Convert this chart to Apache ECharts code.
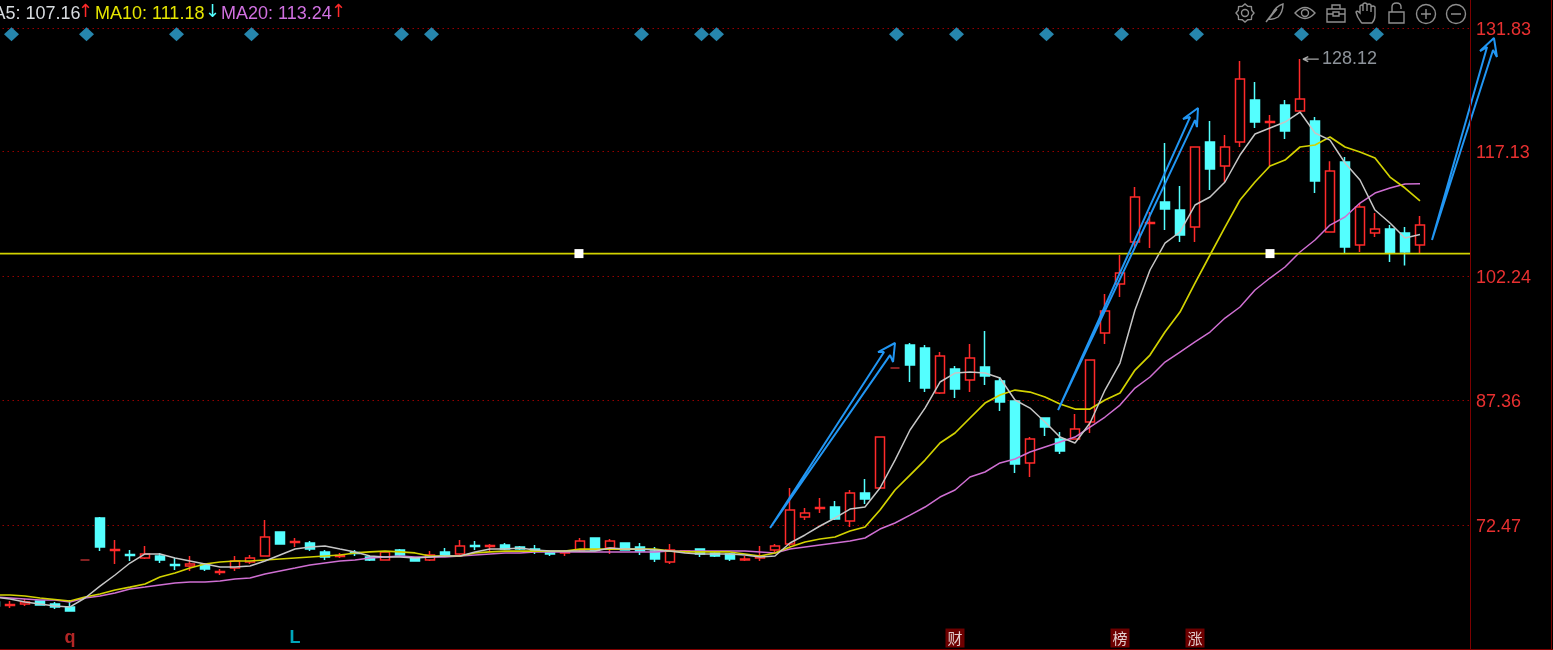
<!DOCTYPE html>
<html><head><meta charset="utf-8">
<script src="https://cdn.jsdelivr.net/npm/echarts@6/dist/echarts.min.js"></script>
<style>html,body{margin:0;padding:0;background:#000;overflow:hidden}#c{width:1553px;height:650px}</style></head>
<body><div id="c"></div>
<script>
const tickLabels=[72.47,87.36,102.24,117.13,131.83];
// [open, close, low, high]
const candles=[
[63.27,62.80,62.56,63.39],[62.85,62.97,62.56,63.39],[63.03,63.27,62.80,63.63],[63.39,62.91,62.91,63.39],[63.03,62.68,62.44,63.27],
[62.68,62.20,62.20,63.51],[68.29,68.29,68.29,68.29],[73.31,69.84,69.36,73.43],[69.42,69.54,67.81,70.68],[68.95,68.83,68.17,69.48],
[68.53,69.01,68.41,69.96],[68.77,68.29,67.93,69.13],[67.75,67.63,67.10,68.53],[67.57,67.81,66.98,68.77],[67.69,67.21,66.98,67.93],
[66.80,66.92,66.50,67.21],[67.33,68.17,66.98,68.77],[68.05,68.53,67.81,68.89],[68.77,71.04,68.77,73.07],[71.63,70.20,70.20,71.63],
[70.38,70.50,69.84,70.92],[70.32,69.60,69.36,70.56],[69.25,68.65,68.29,69.48],[68.71,68.83,68.53,69.13],[69.19,69.07,68.77,69.48],
[68.65,68.29,68.17,68.77],[68.29,69.25,68.29,69.25],[69.48,68.89,68.77,69.60],[68.53,68.17,68.17,68.53],[68.29,68.89,68.17,69.36],
[69.25,68.89,68.65,69.72],[69.01,69.96,68.77,70.68],[70.02,69.90,69.48,70.56],[69.90,70.02,69.36,70.20],[70.08,69.60,69.48,70.32],
[69.84,69.60,69.48,69.96],[69.60,69.36,69.01,70.08],[69.25,69.01,68.77,69.36],[69.13,69.25,68.77,69.48],[69.48,70.56,69.25,70.92],
[70.92,69.48,69.48,70.92],[69.72,70.56,69.01,70.80],[70.32,69.48,69.48,70.32],[69.84,69.36,68.89,70.32],[69.36,68.41,68.05,69.84],
[68.05,69.48,67.81,70.20],[69.25,69.36,69.13,69.48],[69.60,69.01,68.65,69.60],[69.13,68.77,68.65,69.25],[69.01,68.41,68.17,69.13],
[68.29,68.41,68.17,68.77],[68.53,68.77,68.17,69.96],[69.48,69.96,69.25,70.20],[70.20,74.26,69.96,76.89],[73.43,73.90,73.07,74.50],
[74.44,74.56,73.90,75.69],[74.62,73.19,73.07,75.34],[72.95,76.29,72.23,76.65],[76.29,75.58,74.98,77.96],[76.89,82.98,76.89,82.98],
[91.22,91.22,91.22,91.22],[93.97,91.58,89.54,94.21],[93.61,88.83,88.35,93.97],[88.24,92.65,88.12,93.13],[91.10,88.71,87.64,91.46],
[89.78,92.41,88.35,94.09],[91.34,90.27,89.19,95.64],[89.67,87.16,86.09,90.15],[87.28,79.75,78.68,87.28],[79.87,82.74,78.20,82.98],
[85.25,84.17,83.10,85.25],[82.74,81.31,80.95,83.58],[82.74,83.94,82.74,85.73],[84.77,92.17,83.46,92.17],[95.39,98.03,94.09,100.06],
[101.25,102.56,99.70,104.72],[106.27,111.64,105.67,112.84],[108.47,108.59,105.55,109.85],[111.05,110.21,107.70,118.09],[110.09,107.11,106.27,112.96],
[108.06,117.62,106.27,117.62],[118.22,114.99,112.48,120.72],[115.35,117.62,113.44,119.05],[118.22,125.74,117.62,127.89],[123.23,120.60,119.89,125.38],
[120.54,120.66,115.35,121.44],[122.64,119.53,118.57,123.23],[121.92,123.35,121.92,128.12],[120.72,113.56,112.12,121.20],[107.47,114.75,107.47,115.93],
[115.83,105.67,104.96,116.42],[105.91,110.45,105.08,110.93],[107.35,107.82,106.87,109.74],[107.82,104.96,103.88,108.30],[107.35,105.08,103.48,108.06],
[105.91,108.30,104.96,109.38]];
const ma5=[63.87,63.63,63.27,63.03,62.80,62.68,63.75,65.18,66.50,67.93,69.01,69.01,68.53,68.17,67.81,67.45,67.45,67.57,68.17,68.89,
69.60,69.84,69.96,69.60,69.25,68.77,68.65,68.65,68.53,68.65,68.77,68.77,69.25,69.60,69.60,69.72,69.48,69.36,69.36,69.36,
69.36,69.72,69.60,69.60,69.48,69.36,69.13,69.01,69.01,69.01,68.89,68.65,68.77,70.32,71.28,72.35,73.31,74.38,74.62,76.89,
80.23,83.82,86.44,89.55,90.62,90.74,90.62,90.03,87.40,86.44,84.77,82.98,82.26,84.65,88.59,91.82,98.15,102.93,106.15,107.47,
110.69,111.65,113.44,116.66,119.17,119.89,120.60,121.80,119.29,118.45,115.71,113.68,110.09,108.54,106.75,107.16];
const ma10=[64.11,64.11,63.99,63.75,63.57,63.39,63.87,64.23,64.71,65.06,65.42,66.26,66.74,67.33,67.81,68.05,68.17,68.17,68.29,68.41,
68.53,68.65,68.77,68.89,69.13,69.25,69.36,69.25,69.13,68.77,68.77,68.77,69.13,69.25,69.36,69.36,69.36,69.36,69.36,69.60,
69.60,69.60,69.60,69.60,69.60,69.36,69.25,69.25,69.25,69.25,69.01,68.77,69.13,69.84,70.44,70.80,71.04,71.75,72.23,74.26,
76.65,78.44,80.23,82.26,83.46,85.25,87.04,88.00,88.59,88.35,87.76,86.92,86.32,86.32,87.40,88.24,90.98,92.77,95.52,97.91,
101.37,104.72,108.06,111.29,113.44,115.35,116.06,117.62,117.86,118.81,117.62,117.02,116.30,114.03,112.72,111.18];
const ma20=[63.87,63.75,63.63,63.51,63.51,63.27,63.75,63.99,64.35,64.83,65.06,65.30,65.54,65.66,65.66,65.78,66.02,66.14,66.62,66.98,
67.33,67.69,67.93,68.17,68.29,68.53,68.65,68.77,68.65,68.65,68.65,68.77,68.89,69.01,69.13,69.13,69.25,69.25,69.25,69.25,
69.25,69.25,69.25,69.25,69.25,69.36,69.36,69.36,69.36,69.36,69.36,69.25,69.13,69.60,69.84,70.08,70.32,70.56,70.92,71.99,
72.71,73.66,74.62,75.81,76.65,78.20,78.80,79.88,80.35,81.19,81.79,82.38,82.98,84.17,85.37,86.80,88.83,90.15,91.94,93.13,
94.33,95.52,97.19,98.51,100.54,101.97,103.29,105.08,106.51,108.30,109.26,110.93,112.12,112.72,113.20,113.24];
const legendValues={ma5:'107.16',ma10:'111.18',ma20:'113.24'};
const signalIdx=[1,6,12,17,27,29,43,47,48,60,64,70,75,80,87,92];
const signalPrice=131.09;
const hLinePrice=104.89;
const hLineHandles=[38.93,85];
const highIdx=87, highPrice=128.12;
const bottomMarks=[{i:5,t:'q',k:'red'},{i:20,t:'L',k:'cyan'},{i:64,t:'财',k:'box'},{i:75,t:'榜',k:'box'},{i:80,t:'涨',k:'box'}];
const bottomPrice=58.97;
const arrow1=[[51.67,72.11],[59.27,93.13],[58.87,93.13],[60,94.21],[59.87,91.94],[59.67,92.77],[51.67,72.11]];
const arrow2=[[70.87,86.20],[79.67,121.2],[79.2,120.96],[80.2,122.28],[80.13,120.0],[80,120.84],[70.87,86.20]];
const arrow3=[[95.8,106.51],[99.47,129.56],[99,129.08],[99.93,130.64],[100.13,128.37],[99.87,129.2],[95.8,106.51]];

const RED='#ff2a2a',CY='#54ffff',DR='#7c0000',FONT='"Liberation Sans",Arial,sans-serif';
const YMIN=57.66,YMAX=135.18;
const chart=echarts.init(document.getElementById('c'),null,{renderer:'canvas'});
const cats=Array.from({length:99},(_,i)=>String(i));
const OV={xAxisIndex:1,yAxisIndex:1,silent:true,clip:false};
function arrowS(d){return {type:'line',...OV,data:d,showSymbol:false,symbol:'none',z:6,lineStyle:{color:'#2196f3',width:2}};}
function gearPath(cx,cy){let s='';for(let k=0;k<16;k++){const r=k%2?7.2:9,a=k*Math.PI/8;s+=(k?'L':'M')+(cx+r*Math.cos(a)).toFixed(1)+' '+(cy+r*Math.sin(a)).toFixed(1);}return s+'Z';}
function circ(cx,cy,r){return `M${cx-r} ${cy}A${r} ${r} 0 1 1 ${cx+r} ${cy}A${r} ${r} 0 1 1 ${cx-r} ${cy}Z`;}
const icons=[gearPath(1245,13)+circ(1245,13,3.5),
 'M1266 22L1272 14Q1276 6 1283 4Q1283 12 1278 17Q1273 20 1269 19M1266 22L1277 9',
 'M1295 13Q1305 2 1315 13Q1305 24 1295 13Z'+circ(1305,13,3.5),
 'M1327 9H1345V22H1327ZM1332 9V5H1340V9M1327 14H1333M1339 14H1345M1333 12H1339V16H1333Z',
 'M1361 22Q1357 17 1356 12Q1357 10 1360 13L1360 6Q1362 4 1363 6L1363 11L1363 4Q1365 2 1367 4L1367 11L1367 5Q1369 3 1371 5L1371 12L1371 7Q1373 5 1375 7L1375 15Q1375 20 1372 23H1362Z',
 'M1389 12H1404V23H1389ZM1392 12V7Q1392 3 1396.5 3Q1401 3 1401 7V9',
 circ(1426,14,9.5)+'M1421 14H1431M1426 9V19',
 circ(1456,14,9.5)+'M1451 14H1461'];
icons.forEach((p,k)=>echarts.graphic.registerShape('toolIcon'+k,echarts.graphic.extendPath(p,{})));
const txt=(x,s,c)=>({type:'text',x,y:5,silent:true,z:20,style:{text:s,fill:c,font:'18px '+FONT}});
const arw=(x,s,c)=>({type:'text',x,y:3,silent:true,z:20,style:{text:s,fill:c,font:'18px "DejaVu Sans"'}});
const graphic=[
 txt(-21.5,'MA5: '+legendValues.ma5,'#d8dce0'),arw(78,'↑',RED),
 txt(95,'MA10: '+legendValues.ma10,'#e6e600'),arw(205,'↓',CY),
 txt(221,'MA20: '+legendValues.ma20,'#d070e0'),arw(331,'↑',RED),
 ...icons.map((p,k)=>({type:'toolIcon'+k,silent:true,z:20,style:{fill:'none',stroke:'#8e8e8e',lineWidth:1.4}})),
 {type:'rect',silent:true,z:20,shape:{x:1470,y:0,width:1,height:650},style:{fill:DR}},
 {type:'rect',silent:true,z:20,shape:{x:1551,y:0,width:1,height:650},style:{fill:DR}},
 {type:'rect',silent:true,z:20,shape:{x:0,y:649,width:1553,height:1},style:{fill:DR}}
];
chart.setOption({
 animation:false,backgroundColor:'#000',
 grid:[{left:-12.5,top:0,width:1485,height:649,outerBoundsMode:'none'},
       {left:-12.5,top:0,width:1575,height:649,outerBoundsMode:'none'}],
 xAxis:[{type:'category',gridIndex:0,data:cats,boundaryGap:true,axisLine:{show:false},axisTick:{show:false},axisLabel:{show:false},splitLine:{show:false}},
        {type:'value',gridIndex:1,min:-0.5,max:104.5,show:false,splitLine:{show:false}}],
 yAxis:[{type:'value',gridIndex:0,position:'right',min:YMIN,max:YMAX,
   axisLine:{show:false},
   axisTick:{show:false,customValues:tickLabels},
   axisLabel:{customValues:tickLabels,color:'#e83030',fontFamily:FONT,fontSize:18,margin:3.5,verticalAlign:'top',lineHeight:4,formatter:v=>v.toFixed(2)},
   splitLine:{show:true,lineStyle:{color:'#960000',width:1,type:[1.5,3.5]}}},
  {type:'value',gridIndex:1,min:YMIN,max:YMAX,show:false,splitLine:{show:false}}],
 graphic,
 series:[
  {type:'candlestick',data:candles,barWidth:10,silent:true,z:3,
   itemStyle:{color:'#000',color0:CY,borderColor:RED,borderColor0:CY,borderColorDoji:'#b02c2c',borderWidth:1.5}},
  {type:'line',data:ma20,showSymbol:false,symbol:'none',silent:true,z:4,lineStyle:{color:'#cf6fd2',width:1.5}},
  {type:'line',data:ma10,showSymbol:false,symbol:'none',silent:true,z:4,lineStyle:{color:'#d2d200',width:1.7}},
  {type:'line',data:ma5,showSymbol:false,symbol:'none',silent:true,z:4,lineStyle:{color:'#c6c6c6',width:1.5}},
  {type:'line',...OV,z:5,
   data:[[-0.5,hLinePrice],[hLineHandles[0],hLinePrice],[hLineHandles[1],hLinePrice],[98.4,hLinePrice]],
   showSymbol:true,showAllSymbol:true,symbol:(v)=>hLineHandles.includes(v[0])?'rect':'none',symbolSize:9,
   itemStyle:{color:'#fff',borderWidth:0},lineStyle:{color:'#d2d200',width:1.7}},
  {type:'scatter',...OV,z:5,symbol:'diamond',symbolSize:[15,14],symbolOffset:[1.5,0],
   itemStyle:{color:'#30a8d8'},data:signalIdx.map(i=>[i,signalPrice])},
  arrowS(arrow1),arrowS(arrow2),arrowS(arrow3),
  {type:'line',...OV,z:5,symbol:'none',showSymbol:false,lineStyle:{color:'#a8a8a8',width:1.3},
   data:[[highIdx+0.2,highPrice],[highIdx+0.55,highPrice+0.3],[highIdx+0.2,highPrice],[highIdx+0.55,highPrice-0.3],[highIdx+0.2,highPrice],[highIdx+1.25,highPrice]]},
  {type:'scatter',...OV,z:6,symbolSize:0,data:[[highIdx+1.47,highPrice]],
   label:{show:true,position:'right',distance:0,formatter:()=>highPrice.toFixed(2),color:'#b0b8c0',fontFamily:FONT,fontSize:18}},
  {type:'scatter',...OV,z:6,symbolSize:0,
   data:bottomMarks.map(m=>{const box=m.k==='box';return {value:[m.i,bottomPrice],label:{show:true,position:'inside',formatter:m.t,
     color:box?'#fff':(m.k==='red'?'#e03030':'#00d0e8'),fontWeight:box?'normal':'bold',
     fontFamily:box?'"Noto Sans CJK SC"':FONT,fontSize:box?15:18,
     backgroundColor:box?'#8a0000':'transparent',padding:box?[2,2]:0}};})}
 ]
});
</script></body></html>
